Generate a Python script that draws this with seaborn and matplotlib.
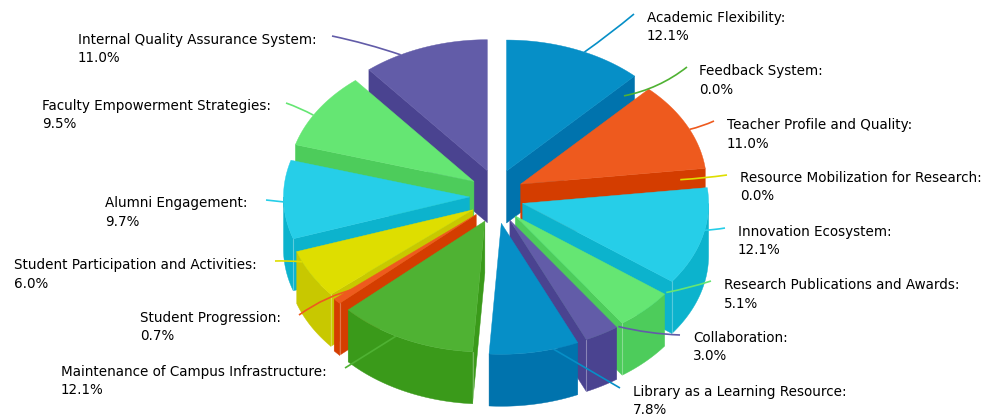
import numpy as np
import pandas as pd
import matplotlib
matplotlib.use("Agg")
import matplotlib.pyplot as plt
import seaborn as sns
from matplotlib.path import Path
from matplotlib.patches import PathPatch

# ---- data ----
categories = ["Academic Flexibility", "Feedback System", "Teacher Profile and Quality",
              "Resource Mobilization for Research", "Innovation Ecosystem",
              "Research Publications and Awards", "Collaboration",
              "Library as a Learning Resource", "Maintenance of Campus Infrastructure",
              "Student Progression", "Student Participation and Activities",
              "Alumni Engagement", "Faculty Empowerment Strategies",
              "Internal Quality Assurance System"]
shares = [12.1, 0.0, 11.0, 0.0, 12.1, 5.1, 3.0, 7.8, 12.1, 0.7, 6.0, 9.7, 9.5, 11.0]
share_labels = ["12.1%", "0.0%", "11.0%", "0.0%", "12.1%", "5.1%", "3.0%",
                "7.8%", "12.1%", "0.7%", "6.0%", "9.7%", "9.5%", "11.0%"]

# ---- style ----
top_hex = ["#068fc7", "#4fb233", "#ee5a1e", "#dede00", "#26cee8", "#65e673", "#625ca8"] * 2
wall_hex = ["#0073ad", "#3a9a1a", "#d43d00", "#c8c800", "#0cb3cd", "#4dcc5b", "#4a4390"] * 2

# ---- layout (pixels) ----
label_left = [647, 699, 727, 740, 738, 724, 693, 633, 61, 140, 14, 105, 42, 78]
label_mid = [18, 71, 125, 178, 232, 285, 338, 392, 372, 318, 265, 203, 106, 40]
tick_end = [(634, 14), (687, 67), (714, 121), (727, 175), (725, 228), (711, 281), (680, 335),
            (620, 388), (345, 368), (299, 315), (275, 261), (266, 200), (286, 103), (332, 36)]
tick_nudge = [3, 0, 2, 0, -3, -10, -6, -6, 3, 0, 6, -1, -3, -8]
tick_reach = [1, .85, 1, .85, 1, 1, 1, 1, 1, .85, 1, 1, 1, 1]
tick_bend = [.02, .12, .05, .02, .03, .03, .05, 0, 0, .10, .03, 0, .04, .03]
CX, CY, RX, RY, EX, EY, DEPTH = 496.5, 196.4, 186, 131, 27, 27.3, 52
FONT_PX = 13.55
LINE_GAP = 18.5

sns.set_theme(style="white")
plt.rcParams["font.family"] = ["DejaVu Sans"]
top_colors = sns.color_palette(top_hex)
wall_colors = sns.color_palette(wall_hex)

df = pd.DataFrame({"name": categories, "share": shares, "text": share_labels})
total = df["share"].sum()
df["end"] = df["share"].cumsum() / total * 360
df["start"] = df["end"] - df["share"] / total * 360
df["mid"] = (df["start"] + df["end"]) / 2

fig, ax = plt.subplots(figsize=(9.92, 4.18), dpi=100)
fig.subplots_adjust(0, 0, 1, 1)
ax.set_xlim(0, 992)
ax.set_ylim(418, 0)
ax.axis("off")


def tip_of(mid):
    r = np.radians(mid)
    return CX + EX * np.sin(r), CY - EY * np.cos(r)


def rim(tip, deg):
    r = np.radians(deg)
    return tip[0] + RX * np.sin(r), tip[1] - RY * np.cos(r)


order = df[df["share"] > 0].assign(key=lambda d: -np.cos(np.radians(d["mid"]))).sort_values("key")
z = 2
for i, row in order.iterrows():
    tip = tip_of(row["mid"])
    a, b = row["start"], row["end"]
    for deg, shown in ((a, np.sin(np.radians(a)) < 0), (b, np.sin(np.radians(b)) > 0)):
        if shown:
            p = rim(tip, deg)
            xs = [tip[0], p[0], p[0], tip[0]]
            ys = [tip[1], p[1], p[1] + DEPTH, tip[1] + DEPTH]
            ax.fill(xs, ys, color=wall_colors[i], lw=0.3, zorder=z)
    lo, hi = max(a, 90), min(b, 270)
    if hi > lo:
        th = np.linspace(lo, hi, 60)
        pts = np.array([rim(tip, t) for t in th])
        xs = np.r_[pts[:, 0], pts[::-1, 0]]
        ys = np.r_[pts[:, 1], pts[::-1, 1] + DEPTH]
        ax.fill(xs, ys, color=wall_colors[i], lw=0.3, zorder=z)
        for deg, shown in ((a, lo == a and np.sin(np.radians(a)) < 0),
                           (b, hi == b and np.sin(np.radians(b)) > 0)):
            if shown:
                p = rim(tip, deg)
                ax.plot([p[0], p[0]], [p[1], p[1] + DEPTH], color="white", alpha=.3, lw=.8, zorder=z)
    th = np.linspace(a, b, 80)
    pts = np.array([rim(tip, t) for t in th])
    ax.fill(np.r_[tip[0], pts[:, 0]], np.r_[tip[1], pts[:, 1]],
            color=top_colors[i], lw=0.3, zorder=z)
    z += 1

for i, row in df.iterrows():
    tip = tip_of(row["mid"])
    s = rim(tip, row["mid"] + tick_nudge[i])
    s = (tip[0] + (s[0] - tip[0]) * tick_reach[i], tip[1] + (s[1] - tip[1]) * tick_reach[i])
    e = tick_end[i]
    mx, my = (s[0] + e[0]) / 2, (s[1] + e[1]) / 2
    dx, dy = e[0] - s[0], e[1] - s[1]
    c = (mx - dy * tick_bend[i], my + dx * tick_bend[i])
    path = Path([s, c, e], [Path.MOVETO, Path.CURVE3, Path.CURVE3])
    ax.add_patch(PathPatch(path, fc="none", ec=top_colors[i], lw=1.2, zorder=50))
    for k, line in enumerate((row["name"] + ":", row["text"])):
        ax.text(label_left[i], label_mid[i] + k * LINE_GAP, line, fontsize=FONT_PX * .72,
                color="black", ha="left", va="center", zorder=60)

fig.savefig("out.png", dpi=100)
